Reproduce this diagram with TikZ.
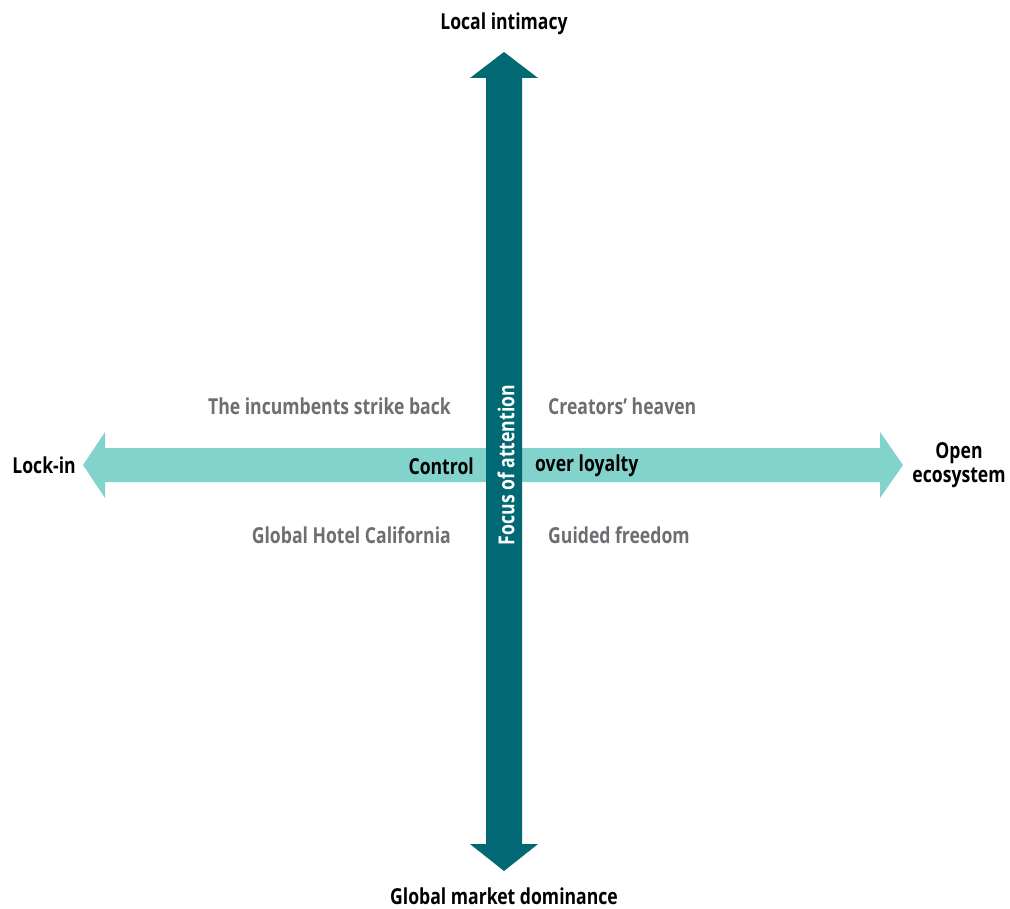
\documentclass[tikz,border=0pt]{standalone}
\usepackage{fontspec}
\setmainfont{Open Sans}[FakeStretch=0.8]
\usepackage{tikz}
\usetikzlibrary{positioning}
\definecolor{DarkTeal}{HTML}{006973}
\definecolor{LightTeal}{HTML}{82D3CC}
\definecolor{LabelGray}{HTML}{6D6E71}
\tikzset{
  axislabel/.style={inner sep=0pt, text=black},
  scenario/.style={inner sep=0pt, text=LabelGray},
}
\begin{document}
\begin{tikzpicture}[x=1pt, y=-1pt, font=\bfseries\fontsize{22}{24}\selectfont]
\useasboundingbox (0,0) rectangle (1010,909);

% horizontal axis
\fill[LightTeal] (83,465) -- (105,432) -- (105,448) -- (880,448) -- (880,432)
  -- (903,465) -- (880,498) -- (880,482) -- (105,482) -- (105,498) -- cycle;
% vertical axis
\fill[DarkTeal] (504,52) -- (538,78) -- (522,78) -- (522,844) -- (538,844)
  -- (504,871) -- (470,844) -- (486,844) -- (486,78) -- (470,78) -- cycle;

\node[axislabel] (Top) at (504,24) {Local intimacy};
\node[axislabel] (Bottom) at (504,896) {Global market dominance};
\node[axislabel, anchor=east] (Lock) at (76,465) {Lock-in};
\node[axislabel, align=center] (Open) at (959,465) {Open\\ecosystem};
\node[axislabel, anchor=east] (Ctrl) at (474,466) {Control};
\node[axislabel, anchor=west] (Loyal) at (535,466) {over loyalty};
\node[axislabel, text=white, rotate=90] (Focus) at (506,465) {Focus of attention};

\node[scenario, anchor=east] (Strike) at (451,406) {The incumbents strike back};
\node[scenario, anchor=west] (Heaven) at (548,406) {Creators’ heaven};
\node[scenario, anchor=east] (Hotel) at (451,535) {Global Hotel California};
\node[scenario, anchor=west] (Guided) at (548,535) {Guided freedom};
\end{tikzpicture}
\end{document}
